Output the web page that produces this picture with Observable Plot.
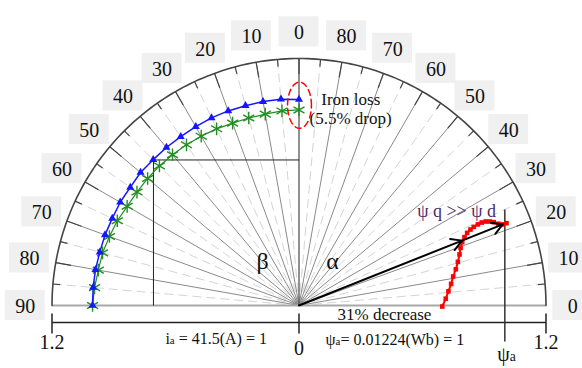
<!DOCTYPE html>
<html><head><meta charset="utf-8">
<script src="https://cdn.jsdelivr.net/npm/d3@7"></script>
<script src="https://cdn.jsdelivr.net/npm/@observablehq/plot@0.6"></script>
<style>body{margin:0;background:#fff}#chart svg{display:block}</style>
</head><body><div id="chart"></div>
<script>
// ---- data ----
const betaTicks = [0, 10, 20, 30, 40, 50, 60, 70, 80, 90];       // left half, measured from vertical
const alphaTicks = [0, 10, 20, 30, 40, 50, 60, 70, 80];          // right half, measured from horizontal
const curveAngles = [0, 5, 10, 15, 20, 25, 30, 35, 40, 45, 50, 55, 60, 65, 70, 75, 80, 85, 90]; // beta (deg)
const blueR = [1.001, 1.006, 1.006, 1.005, 1.006, 1.006, 1.003, 1.002, 1.002, 1.002, 1.005, 1.001, 1.003, 1.001, 1.003, 1.002, 1.004, 1.004, 1.003];
const greenR = [0.950, 0.949, 0.944, 0.943, 0.943, 0.947, 0.950, 0.953, 0.956, 0.959, 0.960, 0.961, 0.964, 0.974, 0.980, 0.988, 0.990, 0.997, 1.003];
const psiD = [0.696, 0.713, 0.726, 0.739, 0.749, 0.762, 0.772, 0.780, 0.785, 0.793, 0.804, 0.817, 0.833, 0.849, 0.869, 0.888, 0.908, 0.927, 0.946, 0.969, 0.990, 1.008];
const psiQ = [-0.005, 0.033, 0.069, 0.105, 0.141, 0.176, 0.212, 0.248, 0.280, 0.308, 0.332, 0.353, 0.369, 0.382, 0.394, 0.403, 0.408, 0.408, 0.405, 0.397, 0.394, 0.400];
const psiAVector = [0.99, 0.394];
const rMax = 1.2;
const axisTickValues = [-1.2, 0, 1.2];
const axisTickLabels = ["1.2", "0", "1.2"];

// ---- derived geometry ----
const rad = d => d * Math.PI / 180;
const polar = (r, th) => ({x: r * Math.cos(rad(th)), y: r * Math.sin(rad(th))});

const labelR = 1.33;
const angleLabels = [
  ...betaTicks.map(b => ({...polar(labelR, 90 + b), t: String(b)})),
  ...alphaTicks.map(a => ({...polar(labelR, a), t: String(a)}))
];
const bw = 0.097, bh = 0.073;

const spokes = d3.range(0, 181, 5).map(th => ({th, ...polar(rMax, th)}));
const solidSpokes = spokes.filter(d => d.th % 10 === 0 && d.th !== 0 && d.th !== 180 && d.th !== 90);
const dashSpokes = spokes.filter(d => d.th % 10 !== 0);
const arc = d3.range(0, 180.5, 1).map(th => polar(rMax, th));
const ticks = spokes.filter(d => d.th > 0 && d.th < 180).map(d => {
  const len = d.th % 10 === 0 ? 0.075 : 0.035;
  const p = polar(rMax - len, d.th);
  return {x1: d.x, y1: d.y, x2: p.x, y2: p.y};
});

const blue = curveAngles.map((b, i) => polar(blueR[i], 90 + b));
const green = curveAngles.map((b, i) => polar(greenR[i], 90 + b));
const red = psiD.map((x, i) => ({x, y: psiQ[i]}));
const c45 = Math.cos(rad(45));

const [ex, ey] = psiAVector;
const arrows = [
  {x1: 0, y1: 0, x2: 0.8 * ex, y2: 0.8 * ey},
  {x1: 0.8 * ex, y1: 0.8 * ey, x2: ex, y2: ey}
];
const ellipse = d3.range(0, 361, 4).map(t => ({x: 0.0024 + 0.058 * Math.cos(rad(t)), y: 0.973 + 0.112 * Math.sin(rad(t))}));

const startTexts = [
  {t: "Iron loss", x: 0.108, y: 1.001, s: 17, c: "#111"},
  {t: "(5.5% drop)", x: 0.051, y: 0.909, s: 17, c: "#111"},
  {t: "ψ q >> ψ d", x: 0.574, y: 0.46, s: 18, c: "#4b2b6b"},
  {t: "31% decrease", x: 0.187, y: -0.044, s: 17, c: "#111"},
  {t: "i_a = 41.5(A) = 1", x: -0.649, y: -0.16, s: 16, c: "#111"},
  {t: "ψ_a= 0.01224(Wb) = 1", x: 0.129, y: -0.165, s: 16, c: "#111"}
];
const midTexts = [
  {t: "β", x: -0.177, y: 0.214, s: 24, c: "#111"},
  {t: "α", x: 0.163, y: 0.214, s: 24, c: "#111"},
  {t: "ψ_a", x: 1.008, y: -0.238, s: 20, c: "#111"}
];
const axisLabels = axisTickValues.map((v, i) => ({x: v, y: v === 0 ? -0.209 : -0.178, t: axisTickLabels[i]}));

const U = 205.83;
const chart = Plot.plot({
  width: 582, height: 368, margin: 0,
  x: {domain: [-298.5 / U, 283.5 / U], axis: null},
  y: {domain: [-63 / U, 305 / U], axis: null},
  style: {background: "#fff", fontFamily: "'Liberation Serif', 'Times New Roman', serif"},
  marks: [
    Plot.rect(angleLabels, {x1: d => d.x - bw, x2: d => d.x + bw, y1: d => d.y - bh, y2: d => d.y + bh, fill: "#f0f0f0"}),
    Plot.text(angleLabels, {x: "x", y: "y", text: "t", fontSize: 20, fill: "#111", dy: 1}),
    Plot.link(dashSpokes, {x1: 0, y1: 0, x2: "x", y2: "y", stroke: "#d4d4d4", strokeWidth: 1, strokeDasharray: "9,5"}),
    Plot.link(solidSpokes, {x1: 0, y1: 0, x2: "x", y2: "y", stroke: "#8a8a8a", strokeWidth: 1}),
    Plot.link([0], {x1: -rMax, x2: rMax, y1: 0, y2: 0, stroke: "#a8a8a8", strokeWidth: 2}),
    Plot.link([0], {x1: 0, x2: 0, y1: 0, y2: rMax, stroke: "#555", strokeWidth: 1.3}),
    Plot.line(arc, {x: "x", y: "y", stroke: "#444", strokeWidth: 1.6}),
    Plot.link(ticks, {x1: "x1", y1: "y1", x2: "x2", y2: "y2", stroke: "#444", strokeWidth: 1.2}),
    Plot.link([0], {x1: -c45, x2: 0, y1: c45, y2: c45, stroke: "#222", strokeWidth: 1}),
    Plot.link([0], {x1: -c45, x2: -c45, y1: 0, y2: c45, stroke: "#222", strokeWidth: 1}),
    // bottom axis
    Plot.link([0], {x1: -rMax, x2: rMax, y1: -0.0826, y2: -0.0826, stroke: "#222", strokeWidth: 1.5}),
    Plot.link(axisTickValues, {x1: d => d, x2: d => d, y1: -0.039, y2: -0.136, stroke: "#222", strokeWidth: 1.5}),
    Plot.text(axisLabels, {x: "x", y: "y", text: "t", fontSize: 20, fill: "#111"}),
    // psi_a line
    Plot.link([0], {x1: 1, x2: 1, y1: 0.466, y2: -0.175, stroke: "#333", strokeWidth: 1.5}),
    // curves
    Plot.line(green, {x: "x", y: "y", stroke: "#1f8f1f", strokeWidth: 1.2}),
    Plot.dot(green, {x: "x", y: "y", symbol: "asterisk", r: 6, stroke: "#1f8f1f", strokeWidth: 1.4}),
    Plot.line(blue, {x: "x", y: "y", stroke: "#1515ff", strokeWidth: 1.5}),
    Plot.dot(blue, {x: "x", y: "y", symbol: "triangle", r: 3, fill: "#1515ff", stroke: "none"}),
    Plot.line(red, {x: "x", y: "y", stroke: "#ff0000", strokeWidth: 2}),
    Plot.dot(red, {x: "x", y: "y", symbol: "square", r: 2.6, fill: "#ff0000", stroke: "none"}),
    Plot.arrow(arrows, {x1: "x1", y1: "y1", x2: "x2", y2: "y2", stroke: "#000", strokeWidth: 2, headLength: 9}),
    Plot.line(ellipse, {x: "x", y: "y", stroke: "#ff0000", strokeWidth: 1.5, strokeDasharray: "6,4"}),
    Plot.text(startTexts, {x: "x", y: "y", text: "t", textAnchor: "start", fontSize: d => d.s, fill: d => d.c}),
    Plot.text(midTexts, {x: "x", y: "y", text: "t", textAnchor: "middle", fontSize: d => d.s, fill: d => d.c})
  ]
});
document.getElementById("chart").appendChild(chart);

// subscripts
const ns = "http://www.w3.org/2000/svg";
chart.querySelectorAll("text").forEach(t => {
  const s = t.textContent;
  if (s.includes("_")) {
    const [pre, post] = s.split("_");
    while (t.firstChild) t.removeChild(t.firstChild);
    const a = document.createElementNS(ns, "tspan"); a.textContent = pre; t.appendChild(a);
    const b = document.createElementNS(ns, "tspan"); b.textContent = post[0]; b.setAttribute("font-size", "0.68em"); t.appendChild(b);
    const c = document.createElementNS(ns, "tspan"); c.textContent = post.slice(1); t.appendChild(c);
  }
});
</script>
</body></html>
